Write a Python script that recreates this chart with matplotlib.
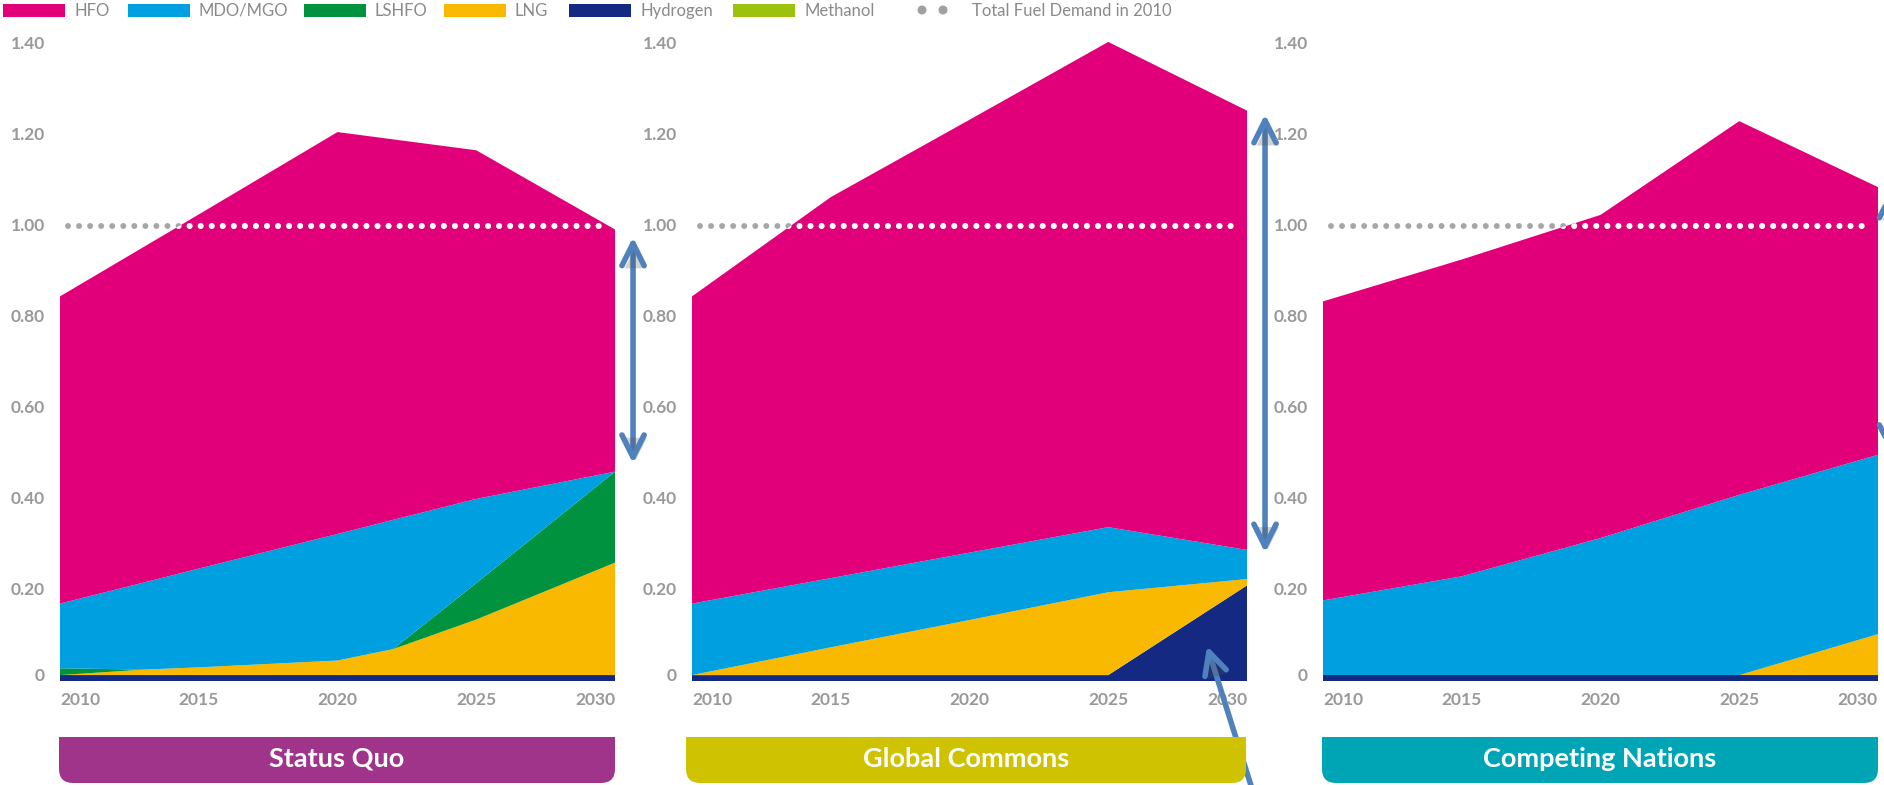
import matplotlib
matplotlib.use('Agg')
import matplotlib.pyplot as plt
from matplotlib.patches import Rectangle, FancyBboxPatch, Circle
from matplotlib.transforms import ScaledTranslation
import matplotlib.patheffects as pe

# Fuel mix per scenario (relative to total fuel demand in 2010)
years_sq = [2010, 2013, 2015, 2020, 2022, 2025, 2030]
hydrogen_sq = [0.013, 0.013, 0.013, 0.013, 0.013, 0.013, 0.013]
lng_sq = [0.0, 0.012, 0.017, 0.032, 0.057, 0.122, 0.247]
lshfo_sq = [0.015, 0.0, 0.0, 0.0, 0.0, 0.08, 0.20]
mdo_sq = [0.142, 0.191, 0.217, 0.278, 0.284, 0.185, 0.0]
hfo_sq = [0.675, 0.737, 0.778, 0.883, 0.836, 0.766, 0.532]

years_gc = [2010, 2015, 2020, 2025, 2030]
hydrogen_gc = [0.013, 0.013, 0.013, 0.013, 0.21]
lng_gc = [0.0, 0.061, 0.121, 0.182, 0.014]
lshfo_gc = [0.0, 0.0, 0.0, 0.0, 0.0]
mdo_gc = [0.157, 0.152, 0.148, 0.143, 0.064]
hfo_gc = [0.675, 0.837, 0.951, 1.066, 0.965]

years_cn = [2010, 2015, 2020, 2025, 2030]
hydrogen_cn = [0.013, 0.013, 0.013, 0.013, 0.013]
lng_cn = [0.0, 0.0, 0.0, 0.0, 0.09]
lshfo_cn = [0.0, 0.0, 0.0, 0.0, 0.0]
mdo_cn = [0.164, 0.217, 0.301, 0.396, 0.394]
hfo_cn = [0.657, 0.696, 0.710, 0.821, 0.588]

scenario_names = ['Status Quo', 'Global Commons', 'Competing Nations']
scenario_colors = ['#a0348a', '#cfc200', '#00a5b5']

# arrow spans (gap between 2030 total and the non-HFO share)
gap_top = [0.975, 1.245, 1.08]
gap_bottom = [0.478, 0.282, 0.50]

legend_labels = ['HFO', 'MDO/MGO', 'LSHFO', 'LNG', 'Hydrogen', 'Methanol']
legend_colors = ['#e2007a', '#009fe0', '#00923f', '#f9b900', '#142a82', '#9cc20e']
baseline_label = 'Total Fuel Demand in 2010'
baseline_value = 1.0

yticks = [0, 0.2, 0.4, 0.6, 0.8, 1.0, 1.2, 1.4]
ytick_labels = ['0', '0.20', '0.40', '0.60', '0.80', '1.00', '1.20', '1.40']
xticks = [2010, 2015, 2020, 2025, 2030]

HFO_C, MDO_C, LSHFO_C, LNG_C, H2_C, METH_C = legend_colors
ARROW_C = '#4f81bd'
GRAY = '#999999'

panels = [
    (years_sq, [hydrogen_sq, lng_sq, lshfo_sq, mdo_sq, hfo_sq]),
    (years_gc, [hydrogen_gc, lng_gc, lshfo_gc, mdo_gc, hfo_gc]),
    (years_cn, [hydrogen_cn, lng_cn, lshfo_cn, mdo_cn, hfo_cn]),
]
stack_colors = [H2_C, LNG_C, LSHFO_C, MDO_C, HFO_C]

W, H = 1884, 785
fig = plt.figure(figsize=(W / 100, H / 100), dpi=100)

ax_lefts = [60, 692, 1323]
ax_w = 555
ax_bottom = 104   # pixels from bottom
ax_h = 660
ymax = 1.45

shadow = [pe.SimplePatchShadow(offset=(2, -2), alpha=0.25), pe.Normal()]

for i, (yrs, series) in enumerate(panels):
    ax = fig.add_axes([ax_lefts[i] / W, ax_bottom / H, ax_w / W, ax_h / H])
    ax.patch.set_visible(False)
    polys = ax.stackplot(yrs, *series, colors=stack_colors, linewidth=0)
    ax.set_xlim(2010, 2030)
    ax.set_ylim(0, ymax)
    for s in ax.spines.values():
        s.set_visible(False)

    ax.set_yticks(yticks)
    ax.set_yticklabels([])
    # y labels drawn as text so the "0" can sit a little higher like the original
    for v, lab in zip(yticks, ytick_labels):
        off = ScaledTranslation(-15 / 100, (5 / 100 if v == 0 else 0), fig.dpi_scale_trans)
        ax.text(0, v, lab, transform=ax.get_yaxis_transform() + off,
                ha='right', va='center', color=GRAY, fontsize=12.5,
                fontweight='bold', family='Lato')
    ax.set_xticks(xticks, [str(x) for x in xticks])
    ax.tick_params(axis='both', length=0, labelcolor=GRAY, labelsize=12.5)
    ax.tick_params(axis='x', pad=8)
    for lab in ax.get_xticklabels():
        lab.set_fontweight('bold')
        lab.set_fontfamily('Lato')
    xl = ax.get_xticklabels()
    xl[0].set_ha('left')
    xl[-1].set_ha('right')

    # dotted 2010 demand line: gray outside, white over the HFO area
    x0, x1 = 2010.3, 2029.7
    ax.plot([x0, x1], [baseline_value] * 2, color='#a6a6a6', lw=4.3,
            linestyle=(0, (0.001, 1.85)), dash_capstyle='round')
    wl, = ax.plot([x0, x1], [baseline_value] * 2, color='white', lw=4.3,
                  linestyle=(0, (0.001, 1.85)), dash_capstyle='round')
    hfo_poly = polys[-1]
    wl.set_clip_path(hfo_poly.get_paths()[0], ax.transData)

    # double arrow to the right of 2030
    ax_x = 2030.65 if i < 2 else 2030.45
    ax.annotate('', xy=(ax_x, gap_top[i]), xytext=(ax_x, gap_bottom[i]),
                arrowprops=dict(arrowstyle='<->,head_length=0.8,head_width=0.4',
                                mutation_scale=20, lw=4, color=ARROW_C,
                                shrinkA=0, shrinkB=0, capstyle='round',
                                joinstyle='round', path_effects=shadow),
                annotation_clip=False)

    if i == 1:
        ax.annotate('', xy=(2028.56, 0.077), xytext=(2030.3, -0.26),
                    arrowprops=dict(arrowstyle='->,head_length=0.8,head_width=0.4',
                                    mutation_scale=20, lw=4, color=ARROW_C,
                                    shrinkA=0, shrinkB=0, capstyle='round',
                                    joinstyle='round', path_effects=shadow),
                    annotation_clip=False)

    # scenario label box (square top, rounded bottom)
    bx = ax_lefts[i] - (6 if i == 1 else 1)
    bw = ax_w + (5 if i == 1 else 1)
    by, bh = 2, 46
    fig.patches.append(FancyBboxPatch((bx, by), bw, bh,
                                      boxstyle='round,pad=0,rounding_size=14',
                                      transform=None, facecolor=scenario_colors[i],
                                      edgecolor='none'))
    fig.patches.append(Rectangle((bx, by + bh / 2), bw, bh / 2, transform=None,
                                 facecolor=scenario_colors[i], edgecolor='none'))
    fig.text((bx + bw / 2) / W, (by + bh / 2 + 1) / H, scenario_names[i],
             color='white', fontsize=19.5, fontweight='bold', family='Lato',
             ha='center', va='center')

# legend row
patch_x = [3, 128, 304, 444, 569, 733]
for px, lab, col in zip(patch_x, legend_labels, legend_colors):
    fig.patches.append(Rectangle((px, H - 17), 62, 13, transform=None,
                                 facecolor=col, edgecolor='none'))
    fig.text((px + 71) / W, (H - 11) / H, lab, color='#8a8a8a', fontsize=12,
             family='Lato', ha='left', va='center')
for cx in [922, 943]:
    fig.patches.append(Circle((cx, H - 10), 4.5, transform=None,
                              facecolor='#a0a0a0', edgecolor='none'))
fig.text(972 / W, (H - 11) / H, baseline_label, color='#8a8a8a', fontsize=12,
         family='Lato', ha='left', va='center')

fig.savefig('out.png', dpi=100)
